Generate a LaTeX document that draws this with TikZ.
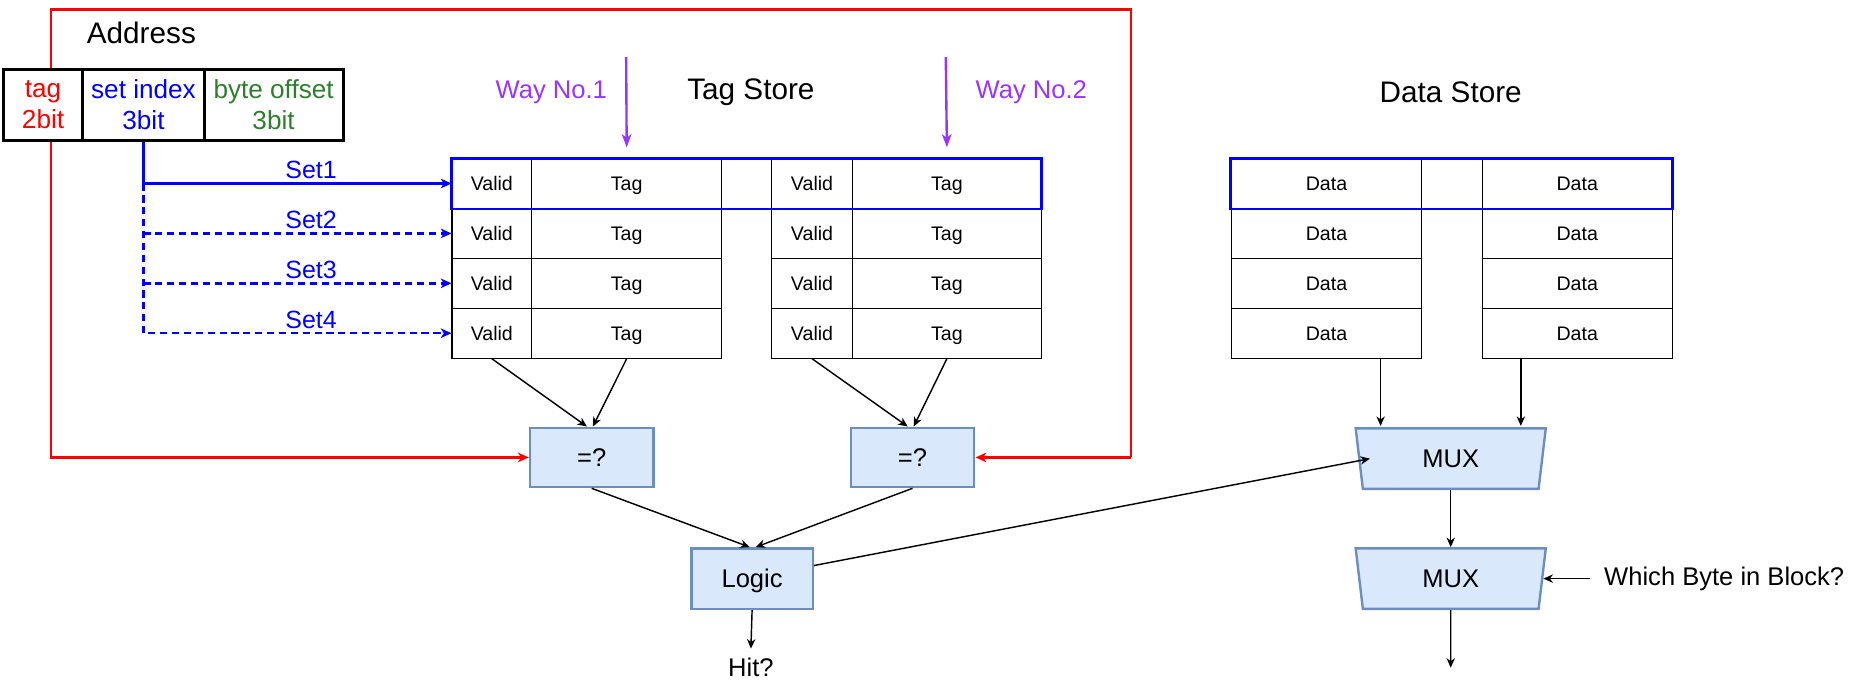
\documentclass[tikz,border=0pt]{standalone}
\usepackage{fontspec}
\setmainfont{Liberation Sans}
\usetikzlibrary{arrows.meta,shapes.geometric,calc}
\definecolor{dgreen}{HTML}{2D7F2D}
\definecolor{purp}{HTML}{9933FF}
\definecolor{boxfill}{HTML}{DAE8FC}
\definecolor{boxdraw}{HTML}{6C8EBF}
\definecolor{pureblue}{HTML}{0000FF}
\definecolor{purered}{HTML}{FF0000}
\begin{document}
\begin{tikzpicture}[x=1pt,y=-1pt,
  cell/.style={draw, line width=0.9pt, minimum height=42pt, inner sep=0pt, anchor=north west, text height=12pt, text depth=0pt, font=\fontsize{16.5}{18}\selectfont},
  addr/.style={draw, line width=2.5pt, minimum height=60pt, inner sep=0pt, anchor=north west, align=center, font=\fontsize{22}{26}\selectfont},
  blk/.style={draw=boxdraw, fill=boxfill, line width=2pt, minimum width=104pt, minimum height=50pt, inner sep=0pt, text height=15.5pt, text depth=0pt, font=\fontsize{21.5}{24}\selectfont},
  mux/.style={draw=boxdraw, fill=boxfill, line width=2pt, trapezium, shape border rotate=180, trapezium stretches body, trapezium left angle=68, trapezium right angle=68, minimum width=160pt, minimum height=51pt, inner sep=0pt, font=\fontsize{21.5}{24}\selectfont},
  arr/.style={-{Stealth[length=8pt,width=7pt,inset=2.5pt]}, line width=1.2pt},
  bluearr/.style={pureblue, line width=2pt, -{Stealth[length=9pt,width=8pt,inset=2.5pt]}},
  redarr/.style={purered, line width=2pt, -{Stealth[length=9pt,width=8pt,inset=2.5pt]}},
  purparr/.style={purp, line width=2pt, -{Stealth[length=11pt,width=8pt,inset=3pt]}},
  setlbl/.style={pureblue, font=\fontsize{21}{24}\selectfont, inner sep=3pt},
  title/.style={font=\fontsize{25}{28}\selectfont},
  waylbl/.style={purp, font=\fontsize{21.5}{24}\selectfont},
  plain/.style={font=\fontsize{21.5}{24}\selectfont}
]
\useasboundingbox (0,0) rectangle (1568,580);

% red frame corners
\coordinate (rx) at (43,0);
\coordinate (rtl) at (43,8);
\coordinate (rtr) at (952,8);

% tag store and data store cells
\foreach \i/\y in {1/133,2/175,3/217,4/259} {
  \node[cell, minimum width=67pt] (v1\i) at (380,\y) {Valid};
  \node[cell, minimum width=160pt] (t1\i) at (447,\y) {Tag};
  \node[cell, minimum width=68pt] (v2\i) at (649,\y) {Valid};
  \node[cell, minimum width=159pt] (t2\i) at (717,\y) {Tag};
  \node[cell, minimum width=160pt] (d1\i) at (1036,\y) {Data};
  \node[cell, minimum width=160pt] (d2\i) at (1247,\y) {Data};
}
\draw[pureblue, line width=2.5pt] (v11.north west) rectangle (t21.south east);
\draw[pureblue, line width=2.5pt] (d11.north west) rectangle (d21.south east);

% comparators, logic, muxes
\node[blk] (eq1) at (498,385) {=?};
\node[blk] (eq2) at (768,385) {=?};
\node[blk, minimum width=102pt, minimum height=51pt] (logic) at (633,487) {Logic};
\node[mux] (mux1) at (1221,386) {MUX};
\node[mux] (mux2) at (1221,487) {MUX};

% address box and red lines from the tag field
\node[addr, minimum width=67pt] (tagc) at (1.5,57) {\textcolor{purered}{tag}\\\textcolor{purered}{2bit}};
\draw[purered, line width=2pt] (tagc.north -| rx) -- (rtl) -- (rtr) -- (rtr |- eq2.east);
\draw[redarr] (tagc.south -| rx) |- (eq1.west);
\draw[redarr] (rtr |- eq2.east) -- (eq2.east);
\node[addr, fill=white, minimum width=67pt] (tagc2) at (1.5,57) {\textcolor{purered}{tag}\\\textcolor{purered}{2bit}};
\node[addr, minimum width=102pt] (setc) at (68.5,57) {\textcolor{pureblue}{set index}\\\textcolor{pureblue}{3bit}};
\node[addr, minimum width=117pt] (offc) at (170.5,57) {\textcolor{dgreen}{byte offset}\\\textcolor{dgreen}{3bit}};
\node[title] (addrlbl) at (119,28) {Address};

% titles
\node[title] (tagstore) at (632,78) {Tag Store};
\node[title] (datastore) at (1221,78) {Data Store};
\node[waylbl] (way1) at (464,78) {Way No.1};
\node[waylbl] (way2) at (868,78) {Way No.2};
\coordinate (w1) at (527,48);
\coordinate (w2) at (796,48);
\draw[purparr] (w1) -- ([yshift=9pt]t11.north);
\draw[purparr] (w2) -- ([yshift=9pt]t21.north);

% set index lines
\draw[bluearr] (setc.south) |- (v11.west) node[setlbl, pos=0.772, above] (s1) {Set1};
\draw[bluearr, dash pattern=on 6pt off 4pt] (setc.south |- v11.west) |- (v14.west) node[setlbl, pos=0.772, above] (s4) {Set4};
\draw[bluearr, dash pattern=on 6pt off 4pt] (setc.south |- v12.west) -- (v12.west) node[setlbl, pos=0.544, above] (s2) {Set2};
\draw[bluearr, dash pattern=on 6pt off 4pt] (setc.south |- v13.west) -- (v13.west) node[setlbl, pos=0.544, above] (s3) {Set3};

% tag store to comparators
\draw[arr] (v14.south) -- ([xshift=-4pt]eq1.north);
\draw[arr] (t14.south) -- ([xshift=1pt]eq1.north);
\draw[arr] (v24.south) -- ([xshift=-4pt]eq2.north);
\draw[arr] (t24.south) -- ([xshift=1pt]eq2.north);

% comparators to logic
\draw[arr] (eq1.south) -- ([xshift=-2pt]logic.north);
\draw[arr] (eq2.south) -- ([xshift=3pt]logic.north);

% logic outputs
\node[plain, inner sep=0pt] (hit) at (632,562) {Hit?};
\draw[arr] (logic.south) -- ([yshift=8pt]hit.north);
\draw[arr] ([yshift=11pt]logic.east) -- ($(mux1.center)+(-68,0)$);

% data to mux
\coordinate (c1) at (1162,0);
\coordinate (c2) at (1280,0);
\draw[arr] (d14.south -| c1) -- ([yshift=1pt]mux1.north -| c1);
\draw[arr] (d24.south -| c2) -- ([yshift=1pt]mux1.north -| c2);
\draw[arr] (mux1.south) -- (mux2.north);
\coordinate (out) at (1221,562);
\draw[arr] (mux2.south) -- (out);
\node[plain, anchor=west, inner sep=0pt] (wb) at (1350,487) {Which Byte in Block?};
\draw[arr] ([xshift=-12pt]wb.west) -- (mux2);
\end{tikzpicture}
\end{document}
